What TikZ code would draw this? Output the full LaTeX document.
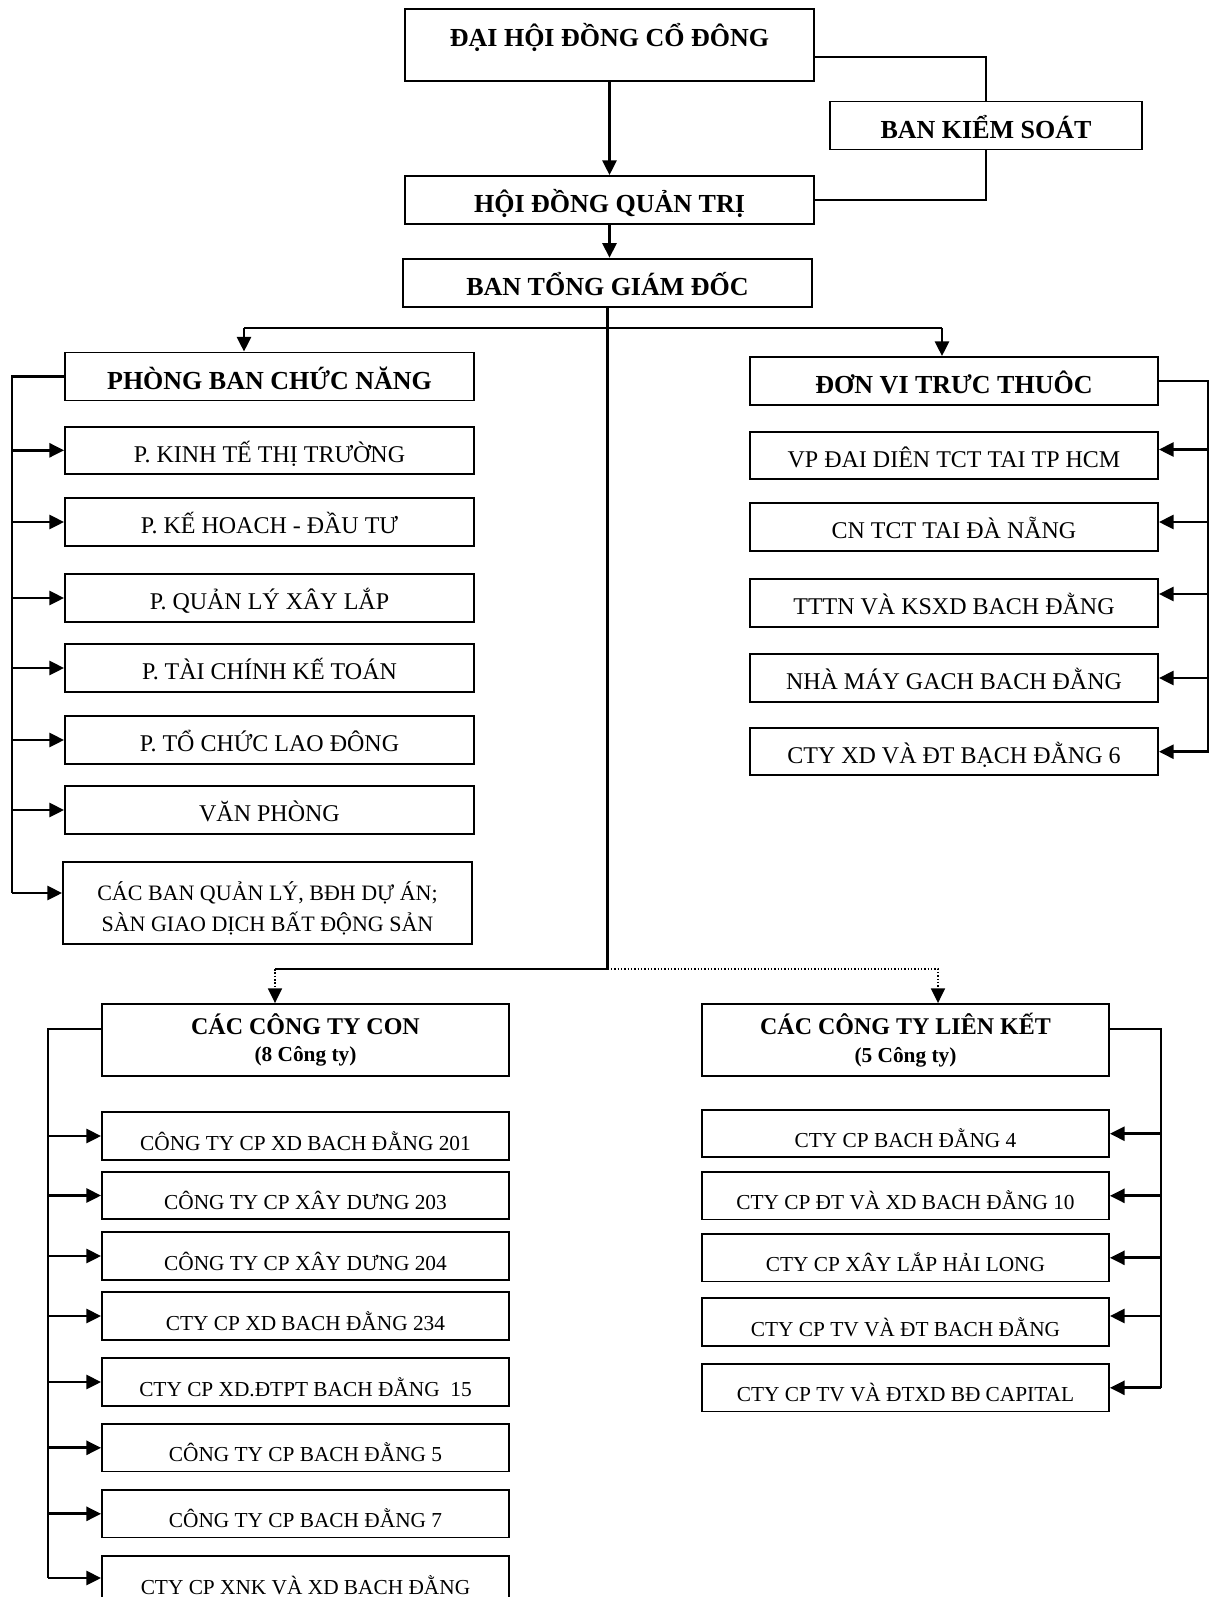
\documentclass[tikz,border=0pt]{standalone}
\usepackage{fontspec}
\setmainfont{Liberation Serif}
\usetikzlibrary{arrows.meta, calc}

\begin{document}
\begin{tikzpicture}[
  x=0.75pt, y=-0.75pt,
  box/.style={draw, line width=1.4pt, inner sep=0pt, minimum width=306.75pt, minimum height=35.5pt, align=center},
  headbox/.style={box, minimum height=36pt, font=\bfseries\fontsize{19.5}{22}\selectfont, text height=20pt, text depth=1.1pt},
  unitbox/.style={box, font=\fontsize{18}{21}\selectfont, text height=19pt, text depth=1.1pt},
  groupbox/.style={box, minimum width=305.25pt, minimum height=54pt, font=\bfseries\fontsize{18}{20.6}\selectfont},
  firmbox/.style={box, minimum width=305.25pt, minimum height=35.5pt, font=\fontsize{16}{19}\selectfont, text height=22pt, text depth=0.9pt},
  link/.style={line width=2pt},
  arrow/.style={-{Triangle[length=11pt, width=10.5pt]}, line width=2pt},
  dotlink/.style={line width=1.3pt, dash pattern=on 1.2pt off 1.3pt},
  dotarrow/.style={dotlink, -{Triangle[length=11pt, width=10.5pt]}},
]
\useasboundingbox (0,0) rectangle (1210,1597);

% Top management
\node[headbox, minimum height=54pt, text height=14pt, text depth=12.4pt] (dhcd) at (609.5,45) {ĐẠI HỘI ĐỒNG CỔ ĐÔNG};
\node[headbox, minimum width=234pt] (bks) at (986,125.5) {BAN KIỂM SOÁT};
\node[headbox] (hdqt) at (609.5,200) {HỘI ĐỒNG QUẢN TRỊ};
\node[headbox] (btgd) at (607.5,282.7) {BAN TỔNG GIÁM ĐỐC};

% Functional departments
\node[headbox] (pbcn) at (269.5,376.5) {PHÒNG BAN CHỨC NĂNG};
\node[unitbox] (kinhte) at (269.5,450.3) {P. KINH TẾ THỊ TRƯỜNG};
\node[unitbox] (kehoach) at (269.5,522) {P. KẾ HOACH - ĐẦU TƯ};
\node[unitbox] (quanly) at (269.5,598) {P. QUẢN LÝ XÂY LẮP};
\node[unitbox] (taichinh) at (269.5,668) {P. TÀI CHÍNH KẾ TOÁN};
\node[unitbox] (tochuc) at (269.5,740) {P. TỔ CHỨC LAO ĐÔNG};
\node[unitbox] (vanphong) at (269.5,810) {VĂN PHÒNG};
\node[box, minimum height=62pt, font=\fontsize{16.5}{23}\selectfont] (cacban) at (267.5,903)
  {\rule{0pt}{22pt}CÁC BAN QUẢN LÝ, BĐH DỰ ÁN;\\SÀN GIAO DỊCH BẤT ĐỘNG SẢN};

% Dependent units
\node[headbox, minimum width=306pt] (dvtt) at (954,381) {ĐƠN VI TRƯC THUÔC};
\node[unitbox, minimum width=306pt] (vpdd) at (954,455.5) {VP ĐAI DIÊN TCT TAI TP HCM};
\node[unitbox, minimum width=306pt] (cndn) at (954,527) {CN TCT TAI ĐÀ NẴNG};
\node[unitbox, minimum width=306pt] (tttn) at (954,603) {TTTN VÀ KSXD BACH ĐẰNG};
\node[unitbox, minimum width=306pt] (nmgach) at (954,678) {NHÀ MÁY GACH BACH ĐẰNG};
\node[unitbox, minimum width=306pt] (ctyxd) at (954,751.7) {CTY XD VÀ ĐT BẠCH ĐẰNG 6};

% Subsidiaries
\node[groupbox] (cctc) at (305.5,1040) {CÁC CÔNG TY CON\\{\fontsize{16}{19}\selectfont (8 Công ty)}};
\node[firmbox] (c201) at (305.5,1136) {CÔNG TY CP XD BACH ĐẰNG 201};
\node[firmbox] (c203) at (305.5,1195.5) {CÔNG TY CP XÂY DƯNG 203};
\node[firmbox] (c204) at (305.5,1256) {CÔNG TY CP XÂY DƯNG 204};
\node[firmbox] (c234) at (305.5,1316) {CTY CP XD BACH ĐẰNG 234};
\node[firmbox] (c15) at (305.5,1382) {CTY CP XD.ĐTPT BACH ĐẰNG\ \ 15};
\node[firmbox] (c5) at (305.5,1447.8) {CÔNG TY CP BACH ĐẰNG 5};
\node[firmbox] (c7) at (305.5,1513.8) {CÔNG TY CP BACH ĐẰNG 7};
\node[firmbox] (cxnk) at (305.5,1580) {CTY CP XNK VÀ XD BACH ĐẰNG};

% Associates
\node[groupbox] (cctlk) at (905.5,1040) {CÁC CÔNG TY LIÊN KẾT\\{\fontsize{16}{19}\selectfont (5 Công ty)}};
\node[firmbox] (lk4) at (905.5,1133.7) {CTY CP BACH ĐẰNG 4};
\node[firmbox] (lk10) at (905.5,1195.8) {CTY CP ĐT VÀ XD BACH ĐẰNG 10};
\node[firmbox] (lkhl) at (905.5,1257.8) {CTY CP XÂY LẮP HẢI LONG};
\node[firmbox] (lktv) at (905.5,1322) {CTY CP TV VÀ ĐT BACH ĐẰNG};
\node[firmbox] (lkcap) at (905.5,1387.8) {CTY CP TV VÀ ĐTXD BĐ CAPITAL};

% Junction points
\coordinate (splitL) at (244,328);
\coordinate (splitR) at (942,328);
\coordinate (fork) at (607.5,969);
\coordinate (dropL) at (275,969);
\coordinate (dropR) at (938,969);
\coordinate (busA) at (12,893);
\coordinate (busC) at (48,1578);
\coordinate (busD) at (1161,1388);

% Arrows
\draw[arrow] (dhcd) -- (hdqt);
\draw[arrow] (hdqt.south) -- (hdqt.south |- btgd.north);
\draw[link] ([yshift=-9pt]dhcd.east) -| (bks.north);
\draw[link] (bks.south) |- (hdqt.east);
\draw[link] (btgd.south) -- (fork);
\draw[link] (splitL) -- (splitR);
\draw[arrow] (splitL) -- (splitL |- pbcn.north);
\draw[arrow] (splitR) -- (splitR |- dvtt.north);
\draw[link] (fork) -- (dropL);
\draw[dotarrow] (dropL) -- (dropL |- cctc.north);
\draw[dotarrow] (fork) -- (dropR) -- (dropR |- cctlk.north);

% Left bus
\draw[link] (pbcn.west) -| (busA);
\foreach \n in {kinhte, kehoach, quanly, taichinh, tochuc, vanphong}
  \draw[arrow] (busA |- \n.west) -- (\n.west);
\draw[arrow] (busA) -- (busA -| cacban.west);

% Right bus
\draw[link] (dvtt.east) -| (1208,752);
\foreach \n/\dy in {vpdd/-6, cndn/-5, tttn/-9, nmgach/0, ctyxd/0}
  \draw[arrow] ($(\n.east)+(50,\dy)$) -- ($(\n.east)+(0,\dy)$);

% Subsidiary bus
\draw[link] ($(cctc.west)+(0,-11)$) -| (busC);
\foreach \n in {c201, c203, c204, c234, c15, c5, c7}
  \draw[arrow] (busC |- \n.west) -- (\n.west);
\draw[arrow] (busC) -- (busC -| cxnk.west);

% Associate bus
\draw[link] ($(cctlk.east)+(0,-11)$) -| (busD);
\foreach \n in {lk4, lk10, lkhl, lkcap}
  \draw[arrow] (busD |- \n.east) -- (\n.east);
\draw[arrow] ($(lktv.east)+(52,-6)$) -- ($(lktv.east)+(0,-6)$);

\end{tikzpicture}
\end{document}
